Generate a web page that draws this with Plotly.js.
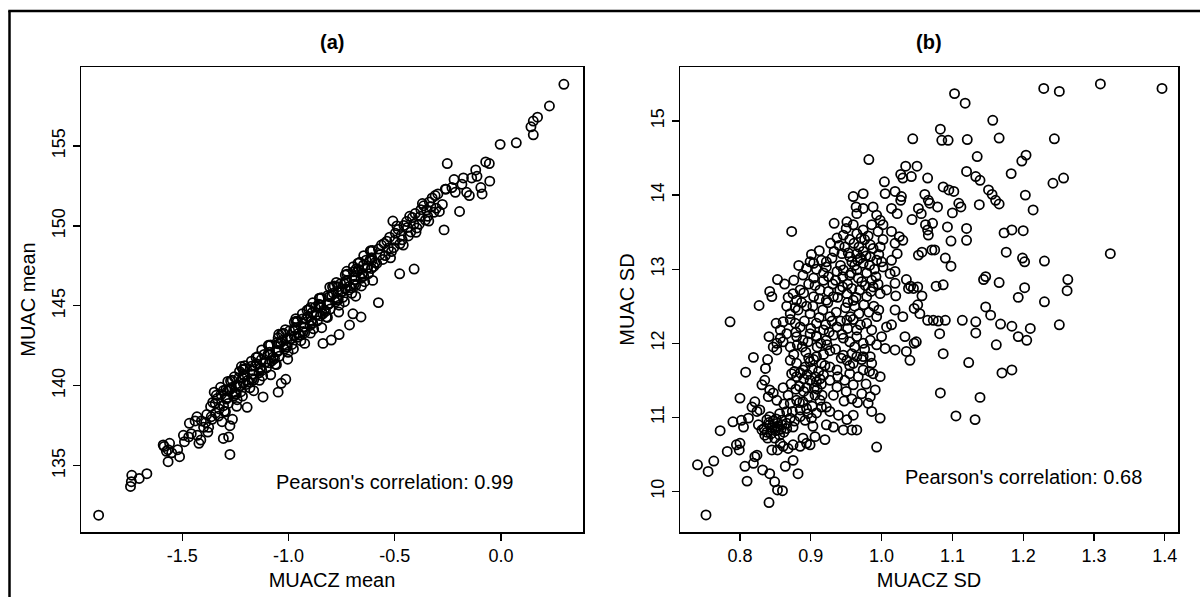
<!DOCTYPE html>
<html>
<head>
<meta charset="utf-8">
<script src="https://cdn.plot.ly/plotly-3.0.1.min.js"></script>
<style>
html,body{margin:0;padding:0;background:#fff;}
#chart{width:1200px;height:597px;}
</style>
</head>
<body>
<div id="chart"></div>
<script>
// ---------- data ----------
const panelTitles = ['(a)', '(b)'];
const xTitles = ['MUACZ mean', 'MUACZ SD'];
const yTitles = ['MUAC mean', 'MUAC SD'];
const corrTexts = ["Pearson's correlation: 0.99", "Pearson's correlation: 0.68"];

const aXTickVals = [-1.5, -1.0, -0.5, 0.0];
const aXTickText = ['-1.5', '-1.0', '-0.5', '0.0'];
const aYTickVals = [135, 140, 145, 150, 155];
const aYTickText = ['135', '140', '145', '150', '155'];
const bXTickVals = [0.8, 0.9, 1.0, 1.1, 1.2, 1.3, 1.4];
const bXTickText = ['0.8', '0.9', '1.0', '1.1', '1.2', '1.3', '1.4'];
const bYTickVals = [10, 11, 12, 13, 14, 15];
const bYTickText = ['10', '11', '12', '13', '14', '15'];

// panel (a): [MUACZ mean, MUAC mean]
const meanPoints = [
[-1.894,131.9],[-1.744,133.7],[-1.74,134.0],[-1.738,134.4],[-1.703,134.2],[-1.667,134.5],
[-1.567,135.25],[-1.513,135.56],[-1.586,136.2],[-1.567,136.0],[-1.522,136.0],[-1.59,136.3],[-1.575,135.9],[-1.55,135.8],[-1.56,136.4],
[-1.422,136.4],[-1.413,136.6],[-1.495,136.9],[-1.458,137.0],[-1.49,136.5],[-1.47,136.8],[-1.43,136.9],[-1.40,137.4],[-1.38,137.1],
[-1.467,137.65],[-1.44,137.8],[-1.431,138.06],[-1.376,137.4],[-1.313,137.75],[-1.276,137.5],[-1.264,137.9],
[-1.367,138.7],[-1.34,139.4],[-1.307,139.7],[-1.276,139.8],[-1.195,138.65],[-1.222,141.2],[-1.231,140.9],[-1.214,141.0],
[-1.049,139.6],[-1.013,140.4],[-1.034,140.15],[-1.049,143.0],[-1.12,139.3],[-1.276,135.7],[-1.307,136.7],[-1.282,136.8],
[0.296,158.86],[0.228,157.5],[0.172,156.8],[0.152,156.56],[0.141,156.2],[0.152,155.7],[0.072,155.2],[-0.004,155.1],
[-0.253,153.9],[-0.055,153.9],[-0.119,153.5],[-0.113,153.1],[-0.177,153.0],[-0.053,152.8],[-0.259,152.3],[-0.231,152.4],
[-0.095,152.4],[-0.162,152.1],[-0.149,151.9],[-0.089,152.0],[-0.195,150.9],[-0.268,149.75],[-0.509,150.3],[-0.409,147.3],
[-0.477,147.0],[-0.682,147.3],[-0.577,145.2],[-0.896,144.9],[-0.858,145.1],[-0.768,146.2],[-0.959,144.0],[-0.762,143.2],
[-0.659,144.3],[-0.713,143.8],[-0.799,142.86],[-0.838,142.65],[-0.697,144.5],
[-0.276,151.34],[-0.262,152.30],[-0.221,152.90],[-0.215,152.1],[-0.184,152.60],[-0.138,153.0],[-0.072,154.0],
[-1.295,139.75],[-1.306,138.75],[-1.291,139.25],[-1.302,138.40],
[-1.277,139.74],[-1.288,139.24],[-1.273,140.29],[-1.284,138.89],
[-1.252,139.59],[-1.265,140.34],[-1.259,139.34],[-1.269,139.89],
[-1.235,140.48],[-1.246,139.48],[-1.231,139.98],[-1.242,139.13],
[-1.217,140.48],[-1.228,139.98],[-1.213,141.03],[-1.224,139.63],
[-1.192,140.33],[-1.205,141.08],[-1.199,140.08],[-1.209,140.63],
[-1.175,141.22],[-1.186,140.22],[-1.171,140.72],[-1.182,139.87],
[-1.157,141.22],[-1.168,140.72],[-1.153,141.77],[-1.164,140.37],
[-1.132,141.06],[-1.145,141.81],[-1.139,140.81],[-1.149,141.36],
[-1.115,141.96],[-1.126,140.96],[-1.111,141.46],[-1.122,140.61],
[-1.097,141.96],[-1.108,141.46],[-1.093,142.51],[-1.104,141.11],
[-1.072,141.80],[-1.085,142.55],[-1.079,141.55],[-1.089,142.10],
[-1.055,142.70],[-1.066,141.70],[-1.051,142.20],[-1.062,141.35],
[-1.037,142.69],[-1.048,142.19],[-1.033,143.24],[-1.044,141.84],
[-1.012,142.54],[-1.025,143.29],[-1.019,142.29],[-1.029,142.84],
[-0.995,143.44],[-1.006,142.44],[-0.991,142.94],[-1.002,142.09],
[-0.977,143.43],[-0.988,142.93],[-0.973,143.98],[-0.984,142.58],
[-0.952,143.28],[-0.965,144.03],[-0.959,143.03],[-0.969,143.58],
[-0.935,144.17],[-0.946,143.17],[-0.931,143.67],[-0.942,142.82],
[-0.917,144.17],[-0.928,143.67],[-0.913,144.72],[-0.924,143.32],
[-0.892,144.02],[-0.905,144.77],[-0.899,143.77],[-0.909,144.32],
[-0.875,144.91],[-0.886,143.91],[-0.871,144.41],[-0.882,143.56],
[-0.857,144.91],[-0.868,144.41],[-0.853,145.46],[-0.864,144.06],
[-0.832,144.75],[-0.845,145.50],[-0.839,144.50],[-0.849,145.05],
[-0.815,145.65],[-0.826,144.65],[-0.811,145.15],[-0.822,144.30],
[-0.797,145.65],[-0.808,145.15],[-0.793,146.20],[-0.804,144.80],
[-0.772,145.49],[-0.785,146.24],[-0.779,145.24],[-0.789,145.79],
[-0.755,146.39],[-0.766,145.39],[-0.751,145.89],[-0.762,145.04],
[-0.737,146.38],[-0.748,145.88],[-0.733,146.93],[-0.744,145.53],
[-0.712,146.23],[-0.725,146.98],[-0.719,145.98],[-0.729,146.53],
[-0.695,147.13],[-0.706,146.13],[-0.691,146.63],[-0.702,145.78],
[-0.677,147.12],[-0.688,146.62],[-0.673,147.67],[-0.684,146.27],
[-0.652,146.97],[-0.665,147.72],[-0.659,146.72],[-0.669,147.27],
[-0.635,147.86],[-0.646,146.86],[-0.631,147.36],[-0.642,146.51],
[-0.617,147.86],[-0.628,147.36],[-0.613,148.41],[-0.624,147.01],
[-0.592,147.71],[-0.605,148.46],[-0.599,147.46],[-0.609,148.01],
[-1.357,138.96],[-1.364,138.06],[-1.343,138.30],[-1.336,139.20],[-1.318,139.45],[-1.326,138.55],
[-0.577,148.55],[-0.585,147.65],[-0.556,147.90],[-0.563,148.80],[-0.537,149.04],[-0.545,148.14],
[-0.516,148.39],[-0.524,149.29],[-0.497,149.54],[-0.505,148.64],[-0.476,148.88],[-0.484,149.78],
[-0.457,150.03],[-0.465,149.13],[-0.436,149.37],[-0.444,150.27],[-0.417,150.52],[-0.425,149.62],
[-0.396,149.87],[-0.404,150.77],[-0.377,151.01],[-0.385,150.11],[-0.356,150.36],[-0.364,151.26],
[-0.337,151.50],[-0.345,150.60],[-0.316,150.85],[-0.324,151.75],[-0.297,152.00],[-0.305,151.10],
[-0.53,148.6],[-0.47,149.4],[-0.41,150.1],[-0.35,151.0],[-0.44,149.9],[-0.38,150.6],[-0.50,149.1],[-0.33,151.2],[-0.57,148.2],
[-1.286,140.27],[-1.297,138.37],[-1.288,139.67],[-1.293,139.17],
[-1.255,140.56],[-1.244,138.71],[-1.25,139.46],[-1.247,139.96],
[-1.206,141.25],[-1.217,139.35],[-1.208,140.65],[-1.213,140.15],
[-1.175,141.54],[-1.164,139.69],[-1.17,140.44],[-1.167,140.94],
[-1.126,142.24],[-1.137,140.34],[-1.128,141.64],[-1.133,141.14],
[-1.095,142.53],[-1.084,140.68],[-1.09,141.43],[-1.087,141.93],
[-1.046,143.22],[-1.057,141.32],[-1.048,142.62],[-1.053,142.12],
[-1.015,143.51],[-1.004,141.66],[-1.01,142.41],[-1.007,142.91],
[-0.966,144.20],[-0.977,142.30],[-0.968,143.60],[-0.973,143.10],
[-0.935,144.50],[-0.924,142.65],[-0.93,143.40],[-0.927,143.90],
[-0.886,145.19],[-0.897,143.29],[-0.888,144.59],[-0.893,144.09],
[-0.855,145.48],[-0.844,143.63],[-0.85,144.38],[-0.847,144.88],
[-0.806,146.17],[-0.817,144.27],[-0.808,145.57],[-0.813,145.07],
[-0.775,146.46],[-0.764,144.61],[-0.77,145.36],[-0.767,145.86],
[-0.726,147.16],[-0.737,145.26],[-0.728,146.56],[-0.733,146.06],
[-0.695,147.45],[-0.684,145.60],[-0.69,146.35],[-0.687,146.85],
[-0.646,148.14],[-0.657,146.24],[-0.648,147.54],[-0.653,147.04],
[-0.615,148.44],[-0.604,146.59],[-0.61,147.34],[-0.607,147.84],
[-1.345,138.9],[-1.33,138.1],[-1.35,139.6],[-1.32,139.9],[-1.385,138.2],[-1.39,137.7],[-1.41,137.8],[-1.36,137.9],
[-0.55,148.9],[-0.52,148.0],[-0.49,150.0],[-0.46,148.8],[-0.43,150.6],[-0.40,149.6],[-0.37,151.4],[-0.34,150.3],[-0.31,151.9],[-0.29,150.9]
];

// panel (b): [MUACZ SD, MUAC SD]
const sdPoints = [
[1.103,15.37],[1.118,15.24],[1.229,15.44],[1.251,15.40],[1.309,15.50],[1.396,15.44],[1.157,15.01],[1.083,14.89],
[1.085,14.74],[1.094,14.74],[1.044,14.76],[1.121,14.75],[1.166,14.77],[1.244,14.76],[0.982,14.48],[1.135,14.52],
[1.204,14.54],[1.198,14.46],[1.034,14.39],[1.050,14.39],[1.027,14.28],[1.030,14.23],[1.042,14.25],[1.065,14.23],
[1.120,14.32],[1.133,14.25],[1.139,14.20],[1.183,14.29],[1.242,14.16],[1.257,14.23],[1.004,14.18],[1.019,14.05],
[1.028,13.98],[1.061,14.01],[1.066,13.93],[1.068,13.89],[1.079,13.84],[1.087,14.11],[1.095,14.07],[1.102,14.05],
[1.109,13.89],[1.112,13.84],[1.100,13.76],[1.138,13.87],[1.151,14.07],[1.156,14.01],[1.161,13.93],[1.166,13.88],
[1.203,14.00],[1.214,13.80],[1.173,13.49],[1.184,13.53],[1.200,13.52],[1.176,13.23],[1.323,13.21],[1.199,13.15],
[1.202,13.10],[1.230,13.11],[1.147,12.90],[1.144,12.86],[1.166,12.82],[1.263,12.86],[1.262,12.71],[1.202,12.75],
[1.193,12.62],[1.230,12.56],[1.147,12.49],[1.154,12.38],[1.077,12.77],[1.087,12.79],[1.098,13.04],[1.090,13.15],
[1.071,13.26],[1.075,13.26],[1.120,13.55],[1.120,13.39],[1.098,13.38],[1.093,13.57],[1.056,13.75],[1.062,13.60],
[1.065,13.53],[1.072,13.62],[1.052,13.19],[1.057,13.23],[1.051,12.76],[1.057,12.64],[1.045,12.74],[1.020,12.64],
[1.035,12.86],[1.019,12.81],[1.038,12.74],[1.019,12.97],[1.014,13.12],[1.022,13.21],[1.041,12.77],[1.014,13.51],
[1.025,13.44],[1.030,13.39],[1.019,13.35],[1.043,13.67],[1.052,13.82],[1.014,13.82],[1.022,13.75],[1.027,13.93],
[1.066,13.46],
[1.083,11.33],[1.139,11.27],[1.105,11.02],[1.132,10.97],[1.123,11.74],[1.170,11.60],[1.184,11.64],[1.162,11.98],
[1.087,11.86],[1.082,12.13],[1.114,12.31],[1.133,12.29],[1.133,12.14],[1.168,12.26],[1.184,12.23],[1.193,12.09],
[1.210,12.20],[1.205,12.04],[1.251,12.25],[1.065,12.31],[1.073,12.31],[1.080,12.30],[1.090,12.31],
[1.049,12.02],[1.046,12.00],[1.035,11.89],[1.040,11.77],[1.033,12.09],[1.054,12.40],[1.046,12.47],[1.051,12.52],
[1.019,11.91],[1.014,12.25],[1.030,12.36],[1.019,12.45],
[0.752,9.683],
[0.740,10.36],[0.755,10.27],[0.763,10.41],[0.772,10.82],[0.790,10.94],[0.782,10.54],[0.795,10.63],[0.800,10.65],
[0.799,10.56],[0.802,10.96],[0.805,10.87],[0.812,10.99],[0.800,11.26],[0.808,11.61],[0.819,11.81],[0.839,11.78],
[0.836,11.66],[0.841,12.09],[0.847,11.95],[0.852,11.91],[0.857,12.07],[0.866,12.13],[0.821,11.21],[0.817,11.14],
[0.824,11.08],[0.828,11.10],[0.831,11.44],[0.840,11.28],[0.847,11.33],[0.852,11.23],[0.842,11.37],[0.835,11.50],
[0.826,10.90],[0.831,10.83],[0.835,10.76],[0.842,10.90],[0.849,10.87],[0.854,10.83],[0.849,10.72],[0.857,10.65],
[0.845,10.56],[0.853,10.56],[0.861,10.61],[0.868,10.58],[0.875,10.63],[0.885,10.61],[0.894,10.65],[0.889,10.72],
[0.821,10.47],[0.807,10.34],[0.819,10.38],[0.824,10.49],[0.832,10.29],[0.842,10.24],[0.849,10.13],[0.853,10.02],
[0.841,9.85],[0.860,10.01],[0.810,10.14],[0.864,10.34],[0.875,10.42],[0.882,10.24],[0.838,10.97],[0.842,11.01],
[0.853,10.92],[0.859,10.96],[0.866,10.92],[0.871,10.99],[0.875,10.87],[0.885,11.01],[0.892,10.96],[0.901,10.99],
[0.908,11.06],[0.915,11.14],[0.922,11.14],[0.871,11.19],[0.880,11.23],[0.889,11.21],[0.897,11.28],[0.906,11.30],
[0.913,11.23],[0.894,11.12],[0.885,11.10],[0.927,11.08],[0.939,11.03],[0.951,10.97],[0.960,11.03],[0.965,10.83],
[0.958,10.83],[0.946,10.83],[0.932,10.87],[0.922,10.90],[0.986,11.08],[0.998,10.99],[0.993,10.60],[0.920,10.70],
[0.906,10.74],[0.899,10.63],[0.873,11.59],[0.880,11.55],[0.889,11.64],[0.899,11.50],[0.908,11.48],[0.918,11.57],
[0.927,11.50],[0.937,11.41],[0.948,11.50],[0.960,11.44],[0.972,11.32],[0.984,11.28],[0.991,11.37],[0.871,11.77],
[0.880,11.73],[0.892,11.68],[0.899,11.75],[0.908,11.82],[0.915,11.73],[0.927,11.68],[0.937,11.64],[0.951,11.77],
[0.960,11.73],[0.974,11.82],[0.986,11.73],[0.974,11.64],[0.955,11.59],[0.852,12.00],[0.861,12.02],[0.871,11.95],
[0.880,12.09],[0.889,12.04],[0.899,12.13],[0.908,12.09],[0.922,12.04],[0.932,12.11],[0.946,12.07],[0.955,12.02],
[0.965,12.09],[0.974,12.00],[0.984,12.04],[0.993,11.98],[1.005,11.93],[1.000,12.09],[0.984,11.82],[0.988,11.59],
[0.998,11.55],[0.946,11.84],[0.958,11.86],[0.965,11.82],[0.981,11.19],
[0.786,12.29],[0.827,12.51],[0.842,12.70],[0.845,12.63],[0.853,12.86],[0.873,13.51],[0.933,13.62],[0.960,13.98],
[0.974,14.02],[1.005,14.02],[0.964,13.84],[0.974,13.82],[0.993,13.73],[0.998,13.66],[1.002,13.60],[0.851,12.27],
[0.866,12.50],[0.871,12.40],[0.880,12.58],[0.875,12.67],[0.885,12.72],[0.894,12.50],[0.904,12.63],[0.913,12.72],
[0.922,12.58],[0.932,12.63],[0.941,12.72],[0.951,12.67],[0.960,12.58],[0.969,12.72],[0.979,12.63],[0.988,12.76],
[0.998,12.67],[1.007,12.72],[0.889,12.92],[0.904,13.08],[0.915,13.12],[0.922,13.03],[0.937,12.97],[0.946,12.99],
[0.955,12.92],[0.965,12.99],[0.974,13.08],[0.984,13.17],[0.993,13.12],[1.002,13.03],[1.012,12.94],[0.937,13.42],
[0.946,13.46],[0.955,13.40],[0.965,13.48],[0.974,13.53],[0.986,13.60],[0.995,13.51],[1.002,13.40],[0.984,13.33],
[0.974,13.24],[0.965,13.21],[0.955,13.17],[0.944,13.21],[0.933,13.24],[0.922,13.10],[0.899,13.10],[0.894,13.01],
[0.904,12.88],[0.965,13.75],[0.951,13.64],[0.988,13.84],[0.908,12.27],[0.918,12.18],[0.927,12.36],[0.937,12.22],
[0.951,12.31],[0.965,12.18],[0.979,12.27],[0.993,12.36],[1.007,12.22],[0.885,12.22],[0.857,12.18],[0.861,12.29],
[0.871,12.32],[0.878,12.27],
[0.935,12.85],[0.942,13.05],[0.948,13.30],[0.952,12.80],[0.958,13.10],[0.961,13.35],[0.967,12.88],[0.970,13.15],[0.976,13.40],[0.979,12.95],
[0.983,13.05],[0.988,13.28],[0.992,12.90],[0.996,13.20],[0.940,13.32],[0.950,13.55],[0.957,12.95],[0.962,13.05],[0.968,13.30],[0.972,12.83],
[0.978,13.18],[0.981,13.45],[0.986,12.85],[0.990,13.00],[0.945,12.90],[0.953,13.22],[0.960,13.60],[0.966,13.12],[0.971,13.42],[0.977,12.78],
[0.925,12.90],[0.930,13.15],[0.928,13.35],[0.918,12.95],[0.912,13.25],[0.908,13.00],[0.985,12.70],[0.995,12.80],[1.000,13.10],[0.998,13.30],
[0.872,11.45],[0.876,11.85],[0.879,12.15],[0.882,12.45],[0.885,11.60],[0.888,11.95],[0.891,12.30],[0.894,11.40],[0.897,11.80],[0.900,12.20],
[0.903,12.50],[0.906,11.55],[0.909,11.95],[0.912,12.35],[0.915,11.45],[0.918,11.85],[0.921,12.25],[0.924,12.55],[0.927,11.90],[0.930,12.30],
[0.884,11.42],[0.887,12.55],[0.890,11.52],[0.893,11.88],[0.896,12.02],[0.899,12.40],[0.902,11.65],[0.905,11.40],[0.908,12.10],[0.911,11.62],
[0.914,12.00],[0.917,12.45],[0.920,11.70],[0.923,11.98],[0.926,12.15],[0.877,11.62],[0.881,11.98],[0.895,11.58],[0.904,11.78],[0.913,11.52],
[0.834,10.85],[0.838,10.80],[0.841,10.93],[0.844,10.78],[0.847,10.95],[0.850,10.82],[0.853,10.88],[0.856,10.76],[0.859,10.90],[0.862,10.80],
[0.845,10.86],[0.851,10.98],[0.858,10.84],[0.839,10.72],[0.866,10.85],
[0.906,12.78],[0.912,12.60],[0.918,12.85],[0.925,12.70],[0.931,12.80],[0.938,12.62],[0.945,12.76],[0.952,12.55],[0.958,12.74],[0.964,12.62],
[0.936,12.42],[0.942,12.30],[0.949,12.48],[0.956,12.36],[0.962,12.50],[0.968,12.40],[0.975,12.52],[0.982,12.42],[0.989,12.50],[0.996,12.45],
[0.944,12.12],[0.952,12.20],[0.960,12.32],[0.970,12.25],[0.986,12.18],
[0.856,11.05],[0.862,11.18],[0.868,11.30],[0.874,11.08],[0.879,11.38],[0.884,11.20],[0.890,11.35],[0.896,11.05],[0.902,11.15],[0.909,11.38],
[0.916,11.30],[0.861,11.40],[0.866,11.08],[0.877,10.95],[0.903,10.88],
[0.932,11.30],[0.938,11.55],[0.943,11.80],[0.950,11.35],[0.955,11.70],[0.962,11.95],[0.967,11.55],[0.972,11.78],[0.978,11.45],[0.983,11.62],
[0.935,11.92],[0.947,11.22],[0.958,11.25],[0.966,11.20],[0.976,11.92],
[0.868,12.62],[0.876,12.85],[0.883,13.05],[0.890,12.68],[0.897,12.80],[0.901,13.20],[0.878,12.48],[0.863,12.80]
];

// ---------- layout geometry (pixels) ----------
const W = 1200, H = 597;
const M = {l: 81, r: 22, t: 67, b: 65};
const PW = W - M.l - M.r, PH = H - M.t - M.b;
const px2x = px => (px - M.l) / PW;
const py2y = py => (H - M.b - py) / PH;

const FONT = 'Liberation Sans, Arial, Helvetica, sans-serif';
const tickFont = {family: FONT, size: 18, color: '#000'};
const titleFont = {family: FONT, size: 20, color: '#000'};

function axisBase(extra) {
  return Object.assign({
    showgrid: false, zeroline: false,
    showline: true, mirror: true, linecolor: '#000', linewidth: 1.5,
    ticks: 'outside', ticklen: 7, tickwidth: 1.3, tickcolor: '#000',
    tickmode: 'array', tickfont: tickFont, fixedrange: true
  }, extra);
}

const marker = {symbol: 'circle-open', size: 9.2, color: '#000', line: {width: 1.75, color: '#000'}};

const traces = [
  {type: 'scatter', mode: 'markers', x: meanPoints.map(p => p[0]), y: meanPoints.map(p => p[1]),
   xaxis: 'x', yaxis: 'y', marker: marker, hoverinfo: 'skip', showlegend: false},
  {type: 'scatter', mode: 'markers', x: sdPoints.map(p => p[0]), y: sdPoints.map(p => p[1]),
   xaxis: 'x2', yaxis: 'y2', marker: marker, hoverinfo: 'skip', showlegend: false}
];

const layout = {
  width: W, height: H,
  margin: {l: M.l, r: M.r, t: M.t, b: M.b, pad: 0},
  paper_bgcolor: '#fff', plot_bgcolor: '#fff',
  showlegend: false,
  font: {family: FONT, color: '#000'},
  xaxis: axisBase({domain: [0, px2x(583)], range: [-1.977, 0.386], anchor: 'y',
    tickvals: aXTickVals, ticktext: aXTickText,
    title: {text: xTitles[0], font: titleFont, standoff: 8}}),
  yaxis: axisBase({domain: [0, 1], range: [130.85, 159.94], anchor: 'x', tickangle: -90,
    tickvals: aYTickVals, ticktext: aYTickText,
    title: {text: yTitles[0], font: titleFont, standoff: 8}}),
  xaxis2: axisBase({domain: [px2x(680), 1], range: [0.7153, 1.4186], anchor: 'y2',
    tickvals: bXTickVals, ticktext: bXTickText,
    title: {text: xTitles[1], font: titleFont, standoff: 8}}),
  yaxis2: axisBase({domain: [0, 1], range: [9.453, 15.729], anchor: 'x2', tickangle: -90,
    tickvals: bYTickVals, ticktext: bYTickText,
    title: {text: yTitles[1], font: titleFont, standoff: 8}}),
  annotations: [
    {xref: 'paper', yref: 'paper', x: px2x(332), y: py2y(42), xanchor: 'center', yanchor: 'middle',
     text: '<b>' + panelTitles[0] + '</b>', showarrow: false, font: {family: FONT, size: 20, color: '#000'}},
    {xref: 'paper', yref: 'paper', x: px2x(929), y: py2y(42), xanchor: 'center', yanchor: 'middle',
     text: '<b>' + panelTitles[1] + '</b>', showarrow: false, font: {family: FONT, size: 20, color: '#000'}},
    {xref: 'x', yref: 'y', x: -0.5, y: 134, xanchor: 'center', yanchor: 'middle',
     text: corrTexts[0], showarrow: false, font: titleFont},
    {xref: 'x2', yref: 'y2', x: 1.2, y: 10.2, xanchor: 'center', yanchor: 'middle',
     text: corrTexts[1], showarrow: false, font: titleFont}
  ],
  shapes: [
    {type: 'line', xref: 'paper', yref: 'paper', x0: px2x(9.5), x1: px2x(9.5), y0: py2y(11), y1: py2y(605),
     line: {color: '#000', width: 2.5}},
    {type: 'line', xref: 'paper', yref: 'paper', x0: px2x(8.25), x1: px2x(1210), y0: py2y(11), y1: py2y(11),
     line: {color: '#000', width: 2.5}}
  ]
};

Plotly.newPlot('chart', traces, layout, {staticPlot: true, displayModeBar: false});
</script>
</body>
</html>
